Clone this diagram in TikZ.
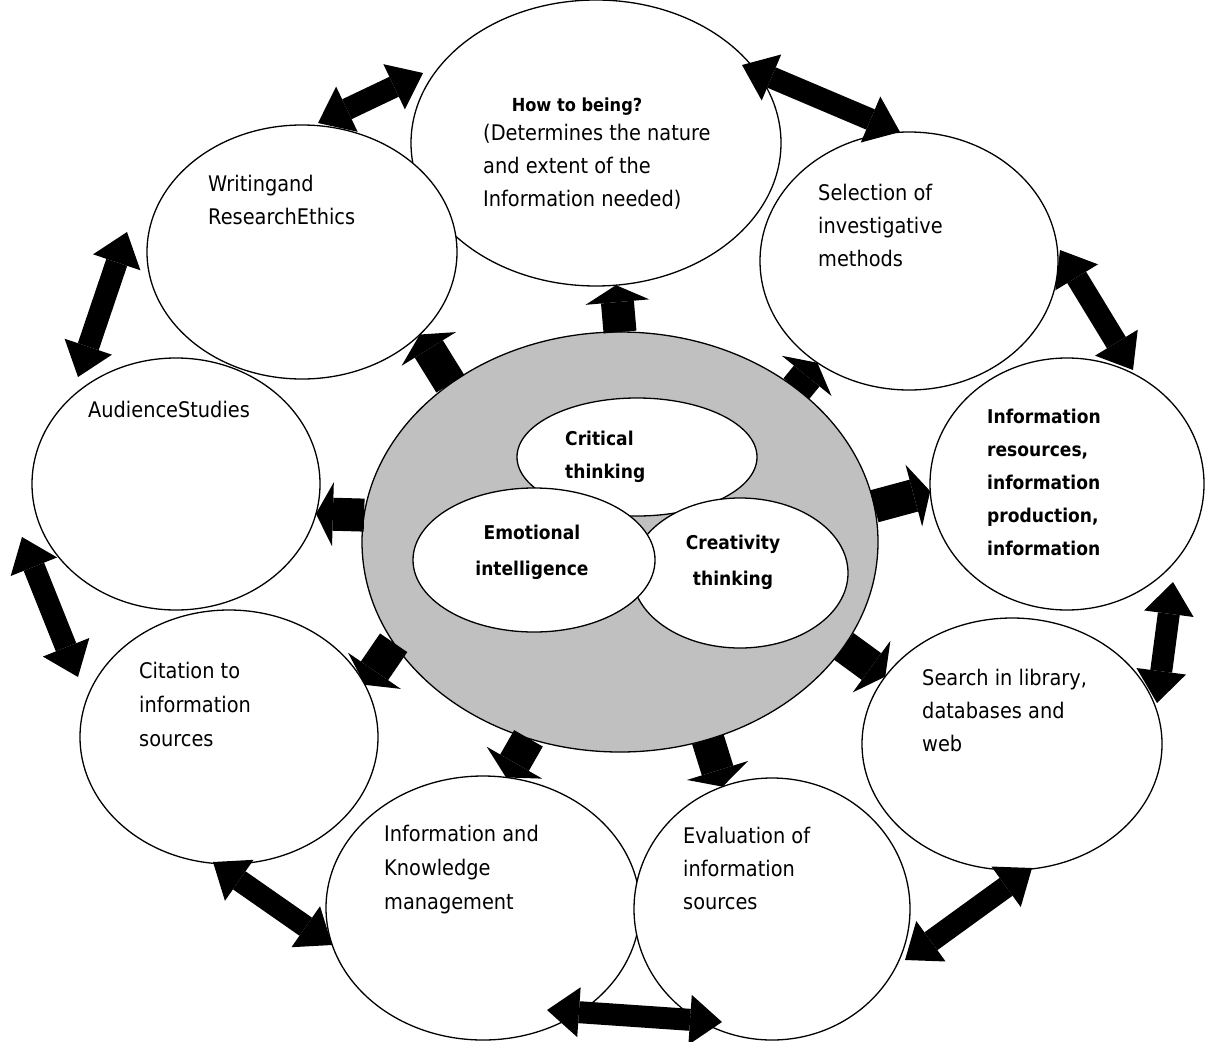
\documentclass[tikz,border=0pt]{standalone}
\usepackage{fontspec}
\setmainfont[FakeStretch=0.9]{DejaVu Sans}
\usetikzlibrary{shapes.geometric,arrows.meta}
\definecolor{coregrey}{RGB}{192,192,192}
\begin{document}
\begin{tikzpicture}[x=1pt,y=-1pt,
  bubble/.style={ellipse, draw=black, line width=1.3pt, fill=white, inner sep=0pt, outer sep=0pt},
  radial/.style={line width=33pt, -{Triangle[length=17pt,width=64pt,line width=0pt]}},
  linkarrow/.style={line width=22pt,
    {Triangle[length=32pt,width=50pt,line width=0pt]}-{Triangle[length=32pt,width=50pt,line width=0pt]}},
  txt/.style={inner sep=0pt, anchor=north west, align=left, font=\fontsize{21.5}{33}\selectfont},
  btxt/.style={inner sep=0pt, align=center, font=\fontsize{19}{34}\selectfont\bfseries},
]
\fill[white] (0,0) rectangle (1206,1041);
\useasboundingbox (0,0) rectangle (1206,1041);

% outer ring of topics
\node[bubble, minimum width=370pt, minimum height=286pt] (top) at (596,143) {};
\node[bubble, minimum width=310pt, minimum height=254pt] (wri) at (302,252) {};
\node[bubble, minimum width=298pt, minimum height=258pt] (sel) at (909,261) {};
\node[bubble, minimum width=288pt, minimum height=252pt] (aud) at (176,484) {};
\node[bubble, minimum width=274pt, minimum height=252pt] (res) at (1067,484) {};
\node[bubble, minimum width=298pt, minimum height=254pt] (cit) at (229,737) {};
\node[bubble, minimum width=300pt, minimum height=252pt] (sch) at (1012,744) {};
\node[bubble, minimum width=314pt, minimum height=264pt] (kno) at (483,908) {};
\node[bubble, minimum width=276pt, minimum height=262pt] (eva) at (772,909) {};

% central core with its three overlapping skills
\node[bubble, fill=coregrey, minimum width=516pt, minimum height=420pt] (core) at (620,542) {};
\node[bubble, minimum width=240pt, minimum height=118pt] (crit) at (637,457) {};
\node[bubble, minimum width=216pt, minimum height=150pt] (crea) at (740,573) {};
\node[bubble, minimum width=242pt, minimum height=144pt] (emo) at (534,560) {};

% arrows from the core to each topic
\draw[radial] (core.90.5) -- (top.278.7);
\draw[radial] (core.137.8) -- (wri.325);
\draw[radial] (core.41) -- (sel.228);
\draw[radial] (core.174) -- (aud.348);
\draw[radial] (core.8.7) -- (res.183);
\draw[radial] (core.204.6) -- (cit.21);
\draw[radial] (core.335) -- (sch.152.5);
\draw[radial] (core.245) -- (kno.80);
\draw[radial] (core.294.8) -- (eva.112.8);

% two-way links around the ring
\draw[linkarrow] ([shift={(-98,-107)}]aud.center) -- ([shift={(-175,-20)}]wri.center);
\draw[linkarrow] ([shift={(-154,53)}]aud.center) -- ([shift={(-151,-60)}]cit.center);
\draw[linkarrow] ([shift={(-16,125)}]cit.center) -- ([shift={(-151,37)}]kno.center);
\draw[linkarrow] ([shift={(64,102)}]kno.center) -- ([shift={(-50,113)}]eva.center);
\draw[linkarrow] ([shift={(133,51)}]eva.center) -- ([shift={(20,124)}]sch.center);
\draw[linkarrow] ([shift={(145,-41)}]sch.center) -- ([shift={(106,98)}]res.center);
\draw[linkarrow] ([shift={(66,-114)}]res.center) -- ([shift={(151,-11)}]sel.center);
\draw[linkarrow] ([shift={(-9,-129)}]sel.center) -- ([shift={(146,-78)}]top.center);
\draw[linkarrow] ([shift={(-173,-70)}]top.center) -- ([shift={(16,-129)}]wri.center);

% labels
\node[btxt, anchor=north, font=\fontsize{18}{34}\selectfont\bfseries] (toptitle) at (577,87) {\strut How to being?};
\node[txt] (toptext) at (483,117) {\strut(Determines the nature\\and extent of the\\Information needed)};
\node[txt] (writext) at (208,168) {\strut Writingand\\ResearchEthics};
\node[txt] (seltext) at (818,177) {\strut Selection of\\investigative\\methods};
\node[txt] (audtext) at (88,394) {\strut AudienceStudies};
\node[txt, font=\fontsize{19}{33}\selectfont\bfseries] (restext) at (987,400) {\strut Information\\resources,\\information\\production,\\information};
\node[txt, font=\fontsize{21.5}{34}\selectfont] (cittext) at (139,654) {\strut Citation to\\information\\sources};
\node[txt] (schtext) at (922,662) {\strut Search in library,\\databases and\\web};
\node[txt, font=\fontsize{21.5}{34}\selectfont] (knotext) at (384,817) {\strut Information and\\Knowledge\\management};
\node[txt] (evatext) at (683,820) {\strut Evaluation of\\information\\sources};
\node[btxt, anchor=north west, align=left, font=\fontsize{19}{33}\selectfont\bfseries] (crittext) at (565,422) {\strut Critical\\thinking};
\node[btxt, anchor=north, font=\fontsize{19}{36}\selectfont\bfseries] (emotext) at (532,514) {\strut Emotional\\intelligence};
\node[btxt, anchor=north, font=\fontsize{19}{36}\selectfont\bfseries] (creatext) at (733,524) {\strut Creativity\\thinking};
\end{tikzpicture}
\end{document}
